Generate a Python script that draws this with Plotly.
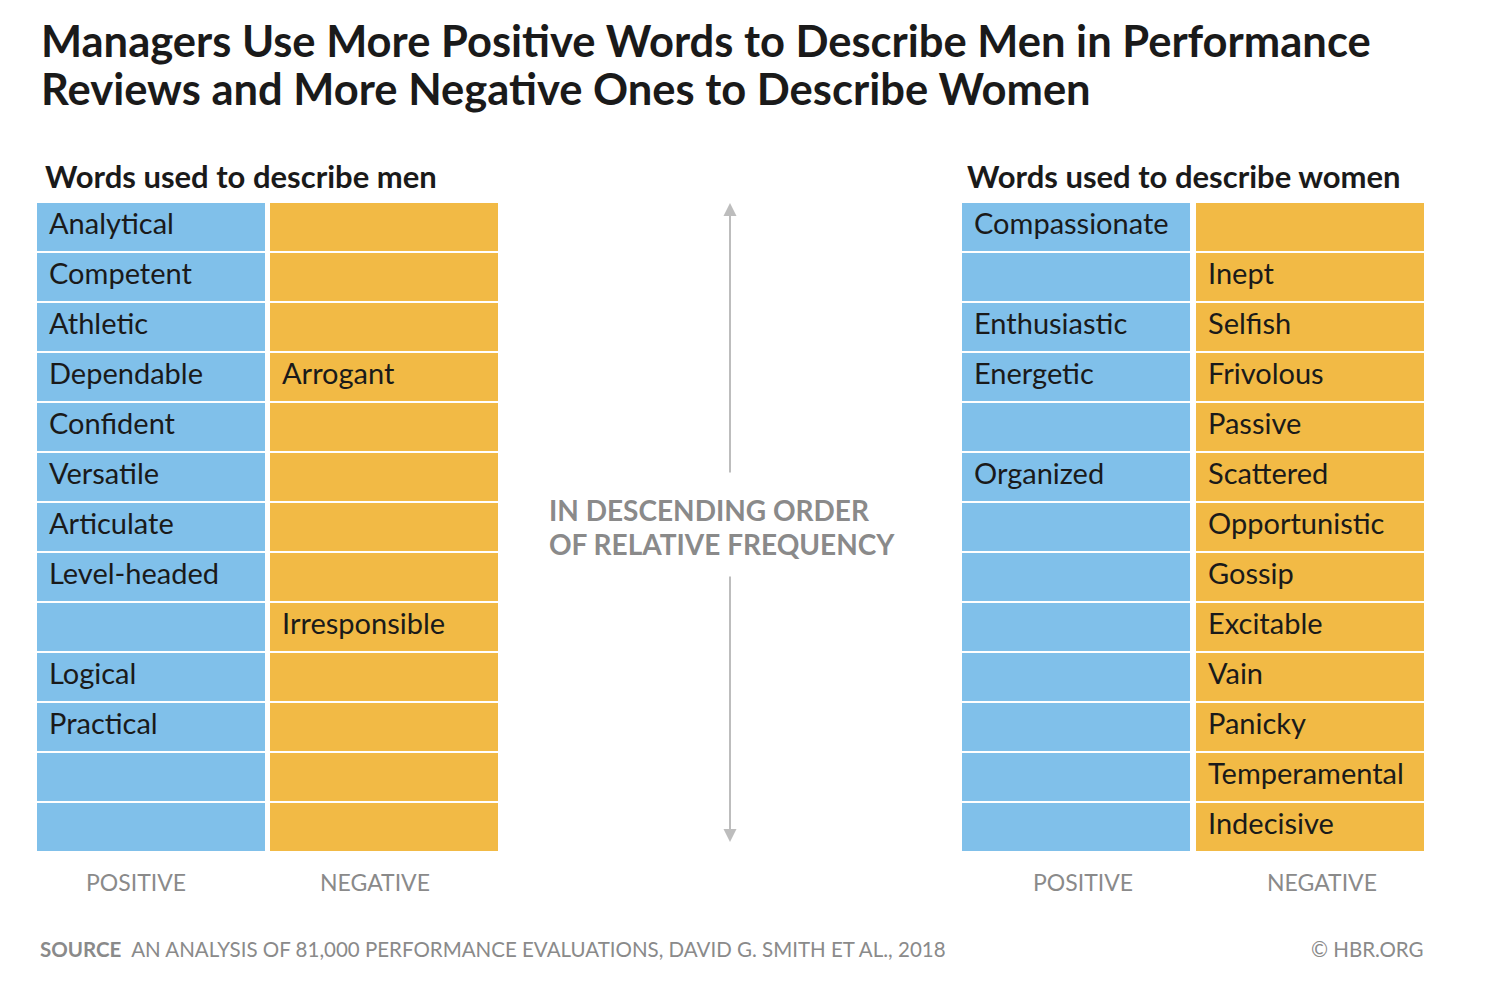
import plotly.graph_objects as go

men_pos = ["Analytical","Competent","Athletic","Dependable","Confident","Versatile","Articulate","Level-headed","","Logical","Practical","",""]
men_neg = ["","","","Arrogant","","","","","Irresponsible","","","",""]
women_pos = ["Compassionate","","Enthusiastic","Energetic","","Organized","","","","","","",""]
women_neg = ["","Inept","Selfish","Frivolous","Passive","Scattered","Opportunistic","Gossip","Excitable","Vain","Panicky","Temperamental","Indecisive"]

BLUE = "#80C0EA"
ORANGE = "#F2BA45"
cols = [(37, 228, BLUE, men_pos), (270, 228, ORANGE, men_neg),
        (962, 228, BLUE, women_pos), (1196, 228, ORANGE, women_neg)]

fig = go.Figure()
rows = list(range(len(men_pos)))
for x0, w, c, words in cols:
    fig.add_trace(go.Bar(y=rows, x=[w]*len(rows), base=[x0]*len(rows), orientation="h",
                         width=0.96, marker=dict(color=c, line=dict(width=0)),
                         hoverinfo="skip", showlegend=False))
    fig.add_trace(go.Scatter(y=rows, x=[x0+12]*len(rows), text=words, mode="text",
                             textposition="middle right",
                             textfont=dict(family="Lato", size=29, color="#1a1a1a"),
                             hoverinfo="skip", showlegend=False))

ann = []
def t(x, y, s, size, color="#1a1a1a", bold=False, xanchor="left", family="Lato"):
    ann.append(dict(x=x, y=y, xref="x", yref="y", text=f"<b>{s}</b>" if bold else s, showarrow=False,
                    xanchor=xanchor, yanchor="middle", align="left",
                    font=dict(family=family, size=size, color=color)))
def py(p):  # pixel y to row units
    return (p - 227) / 50

t(39, py(40), "Managers Use More Positive Words to Describe Men in Performance", 43.5, bold=True)
t(39, py(88), "Reviews and More Negative Ones to Describe Women", 43.5, bold=True)
t(43, py(176), "Words used to describe men", 31, bold=True)
t(965, py(176), "Words used to describe women", 31, bold=True)
for x, s in [(136, "POSITIVE"), (375, "NEGATIVE"), (1083, "POSITIVE"), (1322, "NEGATIVE")]:
    t(x, py(882), s, 23, color="#8a8a8a", xanchor="center")
t(547, py(510), "IN DESCENDING ORDER", 28, color="#8a8a8a", bold=True)
t(547, py(544), "OF RELATIVE FREQUENCY", 28, color="#8a8a8a", bold=True)
t(38, py(949), "<b>SOURCE</b>  AN ANALYSIS OF 81,000 PERFORMANCE EVALUATIONS, DAVID G. SMITH ET AL., 2018", 20.5, color="#8a8a8a")
t(1426, py(949), "© HBR.ORG", 20.5, color="#8a8a8a", xanchor="right")

for y0, y1 in [(py(474), py(203)), (py(575), py(842))]:
    ann.append(dict(x=730, y=y1, ax=730, ay=y0, xref="x", yref="y", axref="x", ayref="y",
                    showarrow=True, arrowhead=2, arrowsize=1.3, arrowwidth=2, arrowcolor="#bdbdbd", text=""))

fig.update_layout(width=1494, height=986, margin=dict(l=0, r=0, t=0, b=0),
                  paper_bgcolor="white", plot_bgcolor="white", barmode="overlay",
                  annotations=ann,
                  xaxis=dict(range=[8, 1502], visible=False, fixedrange=True),
                  yaxis=dict(range=[py(994), py(8)], visible=False, fixedrange=True))
fig.write_html("out.html")
